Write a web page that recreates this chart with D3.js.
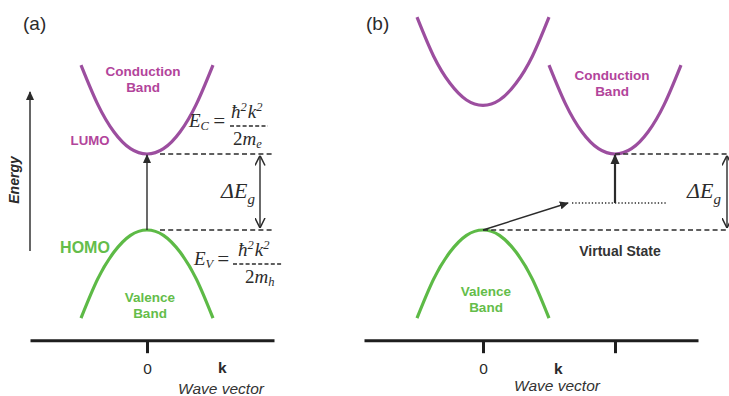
<!DOCTYPE html>
<html><head><meta charset="utf-8">
<script src="https://cdn.jsdelivr.net/npm/d3@7"></script>
<style>
html,body{margin:0;padding:0;background:#fff;}
svg{display:block;}
.sans{font-family:"Liberation Sans",Arial,Helvetica,sans-serif;}
.serif{font-family:"Liberation Serif","Times New Roman",serif;font-style:italic;}
</style></head>
<body>
<svg id="chart" width="729" height="396"></svg>
<script>
// ---------------- data ----------------
const panelLabels = ["(a)", "(b)"];
const bandK = [-1, -0.75, -0.5, -0.25, 0, 0.25, 0.5, 0.75, 1];
const conductionA = [2.17, 1.66, 1.29, 1.07, 1.00, 1.07, 1.29, 1.66, 2.17];
const valenceA    = [-1.16, -0.65, -0.29, -0.07, 0, -0.07, -0.29, -0.65, -1.16];
const conductionBLeft  = [2.80, 2.29, 1.93, 1.71, 1.64, 1.71, 1.93, 2.29, 2.80];
const conductionBRight = [2.17, 1.66, 1.29, 1.07, 1.00, 1.07, 1.29, 1.66, 2.17];
const valenceB    = [-1.16, -0.65, -0.29, -0.07, 0, -0.07, -0.29, -0.65, -1.16];
const bandBRightOffset = 2;     // k of indirect conduction minimum
const virtualStateE = 0.355;
const tickValuesA = [0];
const tickValuesB = [0, 2];
const tickLabels = ["0", ""];
const axisLabel = "Wave vector";
const kLabel = "k";

// ---------------- scales ----------------
const svg = d3.select("#chart");
const purple = "#9c4e9f", purpleText = "#b2449b";
const green = "#5dba46", greenText = "#64bd4a";
const ink = "#2b2b2b";

const y = d3.scaleLinear().domain([0, 1]).range([230, 154]);
const xA = d3.scaleLinear().domain([-1, 1]).range([81, 213]);
const xB = d3.scaleLinear().domain([-1, 1]).range([417, 549]);
const axisE = -1.45;

const defs = svg.append("defs");
function tri(id, size){
  defs.append("marker").attr("id", id).attr("viewBox", "0 0 10 10")
    .attr("refX", 9).attr("refY", 5).attr("markerWidth", size).attr("markerHeight", size)
    .attr("markerUnits","userSpaceOnUse").attr("orient", "auto")
    .append("path").attr("d", "M0,0.5 L10,5 L0,9.5 Z").attr("fill", ink);
}
tri("triS", 9); tri("triM", 10);
defs.append("marker").attr("id","chev").attr("viewBox","0 0 10 10")
  .attr("refX",10).attr("refY",5).attr("markerWidth",10).attr("markerHeight",11)
  .attr("markerUnits","userSpaceOnUse").attr("orient","auto-start-reverse")
  .append("path").attr("d","M0,0 L10,5 L0,10").attr("fill","none").attr("stroke",ink).attr("stroke-width",1.5);

const line = (xs, off=0) => d3.line().x(d => xs(d[0] + off)).y(d => y(d[1])).curve(d3.curveNatural);
function band(xs, vals, color, off=0){
  svg.append("path").datum(bandK.map((k,i)=>[k, vals[i]]))
    .attr("d", line(xs, off)).attr("fill","none").attr("stroke", color)
    .attr("stroke-width", 3.2).attr("stroke-linecap","butt");
}
function dashed(x1, x2, e, dash="5,3.2"){
  svg.append("line").attr("x1",x1).attr("x2",x2).attr("y1",y(e)).attr("y2",y(e))
    .attr("stroke", ink).attr("stroke-width",1.3).attr("stroke-dasharray",dash);
}
function text(x, yy, s, size, color, opts={}){
  const t = svg.append("text").attr("x",x).attr("y",yy).attr("class", opts.serif ? "serif" : "sans")
    .attr("font-size", size).attr("fill", color).attr("text-anchor", opts.anchor || "middle")
    .attr("font-weight", opts.bold ? "bold" : "normal");
  if (opts.italic) t.attr("font-style","italic");
  t.text(s);
  return t;
}
function axis(xs, dom, ticks){
  const sc = xs.copy().domain(dom).range(dom.map(d => xs(d)));
  const g = svg.append("g").attr("transform", `translate(0,${y(axisE)})`)
    .call(d3.axisBottom(sc).tickValues(ticks).tickSize(13).tickSizeOuter(0).tickPadding(8)
      .tickFormat((d,i) => tickLabels[i]));
  g.select(".domain").attr("stroke", "#1e1e1e").attr("stroke-width", 3);
  g.selectAll(".tick line").attr("stroke","#1e1e1e").attr("stroke-width",3);
  g.selectAll(".tick text").attr("class","sans").attr("font-size",15.5).attr("fill",ink).attr("dy","0.85em");
  return g;
}
function gapArrow(x, label, tx){
  svg.append("line").attr("x1",x).attr("x2",x).attr("y1",y(0)-2).attr("y2",y(1)+1.5)
    .attr("stroke",ink).attr("stroke-width",1.4)
    .attr("marker-start","url(#chev)").attr("marker-end","url(#chev)");
  const t = svg.append("text").attr("class","serif").attr("x",tx).attr("y",198).attr("font-size",22).attr("fill",ink);
  t.append("tspan").text("Δ");
  t.append("tspan").text("E");
  t.append("tspan").attr("font-size",15).attr("dy",6).text("g");
}
function frac(x0, yBase, sub, xs){
  // E_sub = ħ²k² / 2m_x
  const t = svg.append("text").attr("class","serif").attr("x",x0).attr("y",yBase).attr("font-size",19).attr("fill",ink);
  t.append("tspan").text("E");
  t.append("tspan").attr("font-size",12.5).attr("dy",3).text(sub[0]);
  svg.append("text").attr("class","serif").attr("font-style","normal").attr("x",xs.eq).attr("y",yBase+1)
    .attr("font-size",21).attr("fill",ink).text("=");
  const n = svg.append("text").attr("class","serif").attr("x",xs.num).attr("y",yBase-9).attr("font-size",19).attr("fill",ink);
  n.append("tspan").text("ħ");
  n.append("tspan").attr("font-size",12.5).attr("dy",-7).text("2");
  n.append("tspan").attr("dy",7).attr("dx",1).text("k");
  n.append("tspan").attr("font-size",12.5).attr("dy",-7).text("2");
  svg.append("line").attr("x1",xs.l1).attr("x2",xs.l2).attr("y1",yBase-1).attr("y2",yBase-1)
    .attr("stroke",ink).attr("stroke-width",1.3).attr("stroke-dasharray","4,2.3");
  const d = svg.append("text").attr("class","serif").attr("x",xs.den).attr("y",yBase+18).attr("font-size",19).attr("fill",ink);
  d.append("tspan").attr("font-style","normal").text("2");
  d.append("tspan").text("m");
  d.append("tspan").attr("font-size",12.5).attr("dy",3).text(sub[1]);
}

// ================= Panel (a) =================
text(23, 30, panelLabels[0], 19, ink, {anchor:"start"});
// energy axis
svg.append("line").attr("x1",30).attr("x2",30).attr("y1",251).attr("y2",92)
  .attr("stroke","#333").attr("stroke-width",1.5).attr("marker-end","url(#triS)");
text(0,0,"Energy",14,ink,{bold:true,italic:true}).attr("transform","translate(19,180) rotate(-90)");

band(xA, conductionA, purple);
band(xA, valenceA, green);
dashed(160, 272, 1);
dashed(160, 272, 0);
svg.append("line").attr("x1",xA(0)).attr("x2",xA(0)).attr("y1",y(0)).attr("y2",y(1)+1)
  .attr("stroke",ink).attr("stroke-width",1.4).attr("marker-end","url(#triS)");
gapArrow(260, "ΔEg", 221);
frac(189, 127, ["C","e"], {eq:212, num:231, l1:230, l2:268, den:233});
frac(194, 265, ["V","h"], {eq:216, num:238, l1:233, l2:282, den:245});

text(143, 76, "Conduction", 13.5, purpleText, {bold:true});
text(143, 92, "Band", 13.5, purpleText, {bold:true});
text(90, 145, "LUMO", 13.2, purpleText, {bold:true});
text(85, 253, "HOMO", 16, greenText, {bold:true});
text(150, 302, "Valence", 13.5, greenText, {bold:true});
text(150, 318, "Band", 13.5, greenText, {bold:true});

axis(xA, [(30-147)/66, (274-147)/66], tickValuesA);
text(xA(1.14), 373, kLabel, 15.5, ink, {bold:true});
text(221, 394, axisLabel, 15.5, "#333", {italic:true});

// ================= Panel (b) =================
text(366, 30, panelLabels[1], 19, ink, {anchor:"start"});
band(xB, conductionBLeft, purple);
band(xB, conductionBRight, purple, bandBRightOffset);
band(xB, valenceB, green);
dashed(xB(bandBRightOffset), 729, 1);
dashed(xB(0), 729, 0);
svg.append("line").attr("x1",572).attr("x2",667).attr("y1",y(virtualStateE)).attr("y2",y(virtualStateE))
  .attr("stroke",ink).attr("stroke-width",1.6).attr("stroke-dasharray","1.3,2");
svg.append("line").attr("x1",xB(bandBRightOffset)).attr("x2",xB(bandBRightOffset))
  .attr("y1",y(virtualStateE)).attr("y2",y(1)+1)
  .attr("stroke",ink).attr("stroke-width",2.2).attr("marker-end","url(#triM)");
svg.append("line").attr("x1",xB(0)).attr("y1",y(0)).attr("x2",568).attr("y2",y(virtualStateE))
  .attr("stroke",ink).attr("stroke-width",1.5).attr("marker-end","url(#triS)");
gapArrow(727, "ΔEg", 687);

text(612, 80, "Conduction", 13.5, purpleText, {bold:true});
text(612, 96, "Band", 13.5, purpleText, {bold:true});
text(620, 256, "Virtual State", 14, "#333", {bold:true});
text(486, 296, "Valence", 13.5, greenText, {bold:true});
text(486, 312, "Band", 13.5, greenText, {bold:true});

axis(xB, [(364-483)/66, (698-483)/66], tickValuesB);
text(xB(1.14), 374, kLabel, 15.5, ink, {bold:true});
text(557, 391, axisLabel, 15.5, "#333", {italic:true});
</script>
</body></html>
